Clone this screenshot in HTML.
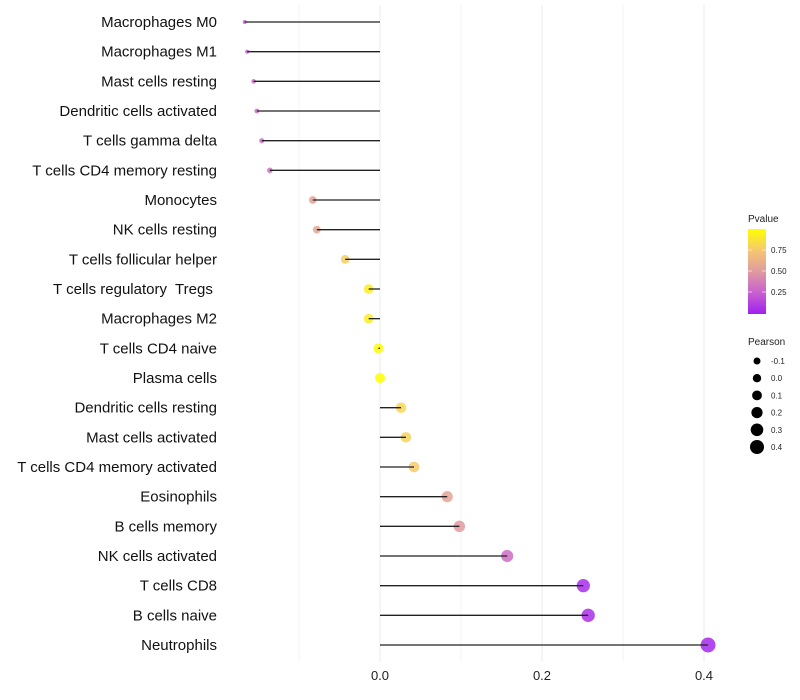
<!DOCTYPE html>
<html><head><meta charset="utf-8">
<style>
body{margin:0;background:#fff;}
svg{display:block;font-family:"Liberation Sans",sans-serif;}
</style></head>
<body>
<svg id="chart" width="800" height="700">
<defs>
<linearGradient id="pgrad" x1="0" y1="1" x2="0" y2="0">
<stop offset="0" stop-color="#a020f0"/>
<stop offset="0.25" stop-color="#c860d0"/>
<stop offset="0.5" stop-color="#e09aa0"/>
<stop offset="0.75" stop-color="#f5c870"/>
<stop offset="1" stop-color="#ffff00"/>
</linearGradient>
</defs>
<g id="grid"></g>
<g id="marks"></g>
<g id="ylabels"></g>
<g id="xlabels"></g>
<g>
<text x="748" y="222" font-size="10" fill="#222">Pvalue</text>
<rect x="748" y="229" width="18" height="85" fill="url(#pgrad)"/>
<g id="cbticks"></g>
</g>
<g id="sizeleg">
<text x="748" y="345" font-size="10" fill="#222">Pearson</text>
</g>
</svg>
<script>
const categories=["Macrophages M0","Macrophages M1","Mast cells resting","Dendritic cells activated","T cells gamma delta","T cells CD4 memory resting","Monocytes","NK cells resting","T cells follicular helper","T cells regulatory  Tregs ","Macrophages M2","T cells CD4 naive","Plasma cells","Dendritic cells resting","Mast cells activated","T cells CD4 memory activated","Eosinophils","B cells memory","NK cells activated","T cells CD8","B cells naive","Neutrophils"];
const pearson=[-0.167,-0.164,-0.156,-0.152,-0.146,-0.136,-0.083,-0.078,-0.043,-0.014,-0.014,-0.002,0.0,0.026,0.032,0.042,0.083,0.098,0.157,0.251,0.257,0.405];
const pvalue=[0.25,0.27,0.3,0.3,0.32,0.33,0.55,0.57,0.78,0.92,0.92,0.98,1.0,0.82,0.8,0.76,0.55,0.5,0.3,0.05,0.06,0.03];
const xTicks=[0.0,0.2,0.4];
const xMinor=[-0.1,0.1,0.3];
const cbTicks=[0.25,0.5,0.75];
const sizeLegend=[-0.1,0.0,0.1,0.2,0.3,0.4];
const NS="http://www.w3.org/2000/svg";
const x=v=>380+v*810;
const y=i=>22+i*(623/21);
const r=v=>Math.sqrt(Math.max(3,25+v*(v<0?126:76)));
const stops=[[0,[160,32,240]],[0.25,[200,96,208]],[0.5,[224,154,160]],[0.75,[245,200,112]],[1,[255,255,0]]];
function col(p){for(let k=1;k<stops.length;k++){if(p<=stops[k][0]){const a=stops[k-1],b=stops[k],t=(p-a[0])/(b[0]-a[0]);return 'rgb('+a[1].map((c,j)=>Math.round(c+(b[1][j]-c)*t)).join(',')+')';}}return 'rgb(255,255,0)';}
function mk(tag,attrs,parent){const e=document.createElementNS(NS,tag);for(const k in attrs)e.setAttribute(k,attrs[k]);parent.appendChild(e);return e;}
const grid=document.getElementById('grid'),marks=document.getElementById('marks'),yl=document.getElementById('ylabels'),xl=document.getElementById('xlabels');
xMinor.forEach(v=>{const l=mk('line',{x1:x(v),x2:x(v),y1:5,y2:662,stroke:'#f3f3f3','stroke-width':1},grid);

});
xTicks.forEach(v=>{const l=mk('line',{x1:x(v),x2:x(v),y1:5,y2:662,stroke:'#ebebeb','stroke-width':1},grid);


const t=mk('text',{x:x(v),y:680,'font-size':13,'text-anchor':'middle',fill:'#222'},xl);t.textContent=v.toFixed(1);

});
categories.forEach((c,i)=>{
const t=mk('text',{x:217,y:y(i)+5,'font-size':15,'text-anchor':'end',fill:'#111',style:'white-space:pre'},yl);t.textContent=c;


const d=mk('circle',{cx:x(pearson[i]),cy:y(i),r:r(pearson[i]),fill:col(pvalue[i]),'fill-opacity':0.85},marks);


const l=mk('line',{x1:x(0),x2:x(pearson[i]),y1:y(i),y2:y(i),stroke:'#222','stroke-width':1.3},marks);


});
const cb=document.getElementById('cbticks');
cbTicks.forEach(p=>{const yy=313-p*84;
mk('line',{x1:748,x2:752,y1:yy,y2:yy,stroke:'#fff','stroke-opacity':0.6},cb);
mk('line',{x1:762,x2:766,y1:yy,y2:yy,stroke:'#fff','stroke-opacity':0.6},cb);
const t=mk('text',{x:771,y:yy+3,'font-size':8,fill:'#222'},cb);t.textContent=p.toFixed(2);

});
const sl=document.getElementById('sizeleg');
sizeLegend.forEach((v,i)=>{const yy=361+i*17.2;
const c=mk('circle',{cx:757,cy:yy,r:3.5+(v+0.1)*7,fill:'#000'},sl);


const t=mk('text',{x:771,y:yy+3,'font-size':8,fill:'#222'},sl);t.textContent=v.toFixed(1);

});
</script>
</body></html>
